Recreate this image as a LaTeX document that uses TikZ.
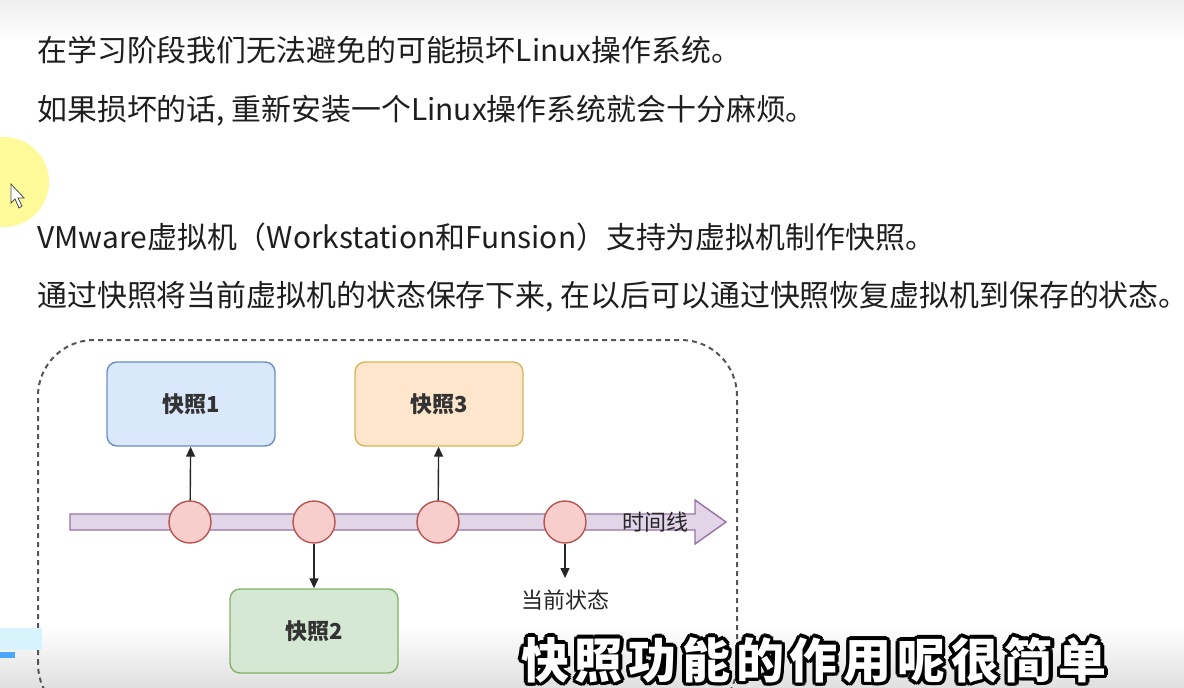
\documentclass[tikz,border=0pt]{standalone}
\usepackage{fontspec}
\setmainfont{Noto Sans CJK SC}
\newfontfamily\subfont[LetterSpace=12]{Noto Sans CJK SC}
\usetikzlibrary{arrows.meta}
\definecolor{txt}{HTML}{1E1E1E}
\definecolor{blueF}{HTML}{DAE8FC}\definecolor{blueD}{HTML}{6C8EBF}
\definecolor{orgF}{HTML}{FFE6CC}\definecolor{orgD}{HTML}{D6B656}
\definecolor{grnF}{HTML}{D5E8D4}\definecolor{grnD}{HTML}{82B366}
\definecolor{redF}{HTML}{F8CECC}\definecolor{redD}{HTML}{B85450}
\definecolor{purF}{HTML}{E1D5E7}\definecolor{purD}{HTML}{9673A6}
\definecolor{frame}{HTML}{555555}
\tikzset{
  line/.style={anchor=west,text=txt,font=\fontsize{14.95}{16}\selectfont,inner sep=0pt},
  snapbox/.style={draw,rounded corners=5pt,line width=0.7pt,minimum width=84pt,minimum height=42pt,
    font=\fontsize{11}{13}\selectfont\bfseries,text=black!80},
  dot/.style={circle,draw=redD,fill=redF,line width=0.7pt,minimum size=21pt,inner sep=0pt},
  small/.style={font=\fontsize{11}{13}\selectfont,text=black!85,inner sep=0pt},
  arr/.style={-{Triangle[length=5pt,width=4.5pt]},line width=0.7pt,black!85},
  subt/.style={font=\subfont\fontsize{24}{26}\selectfont\bfseries,inner sep=0pt}
}
\begin{document}
\begin{tikzpicture}[x=0.5pt,y=-0.5pt]
\useasboundingbox (0,0) rectangle (1184,687);
\clip (0,0) rectangle (1184,687);
% background
\fill[white] (0,0) rectangle (1184,687);
\shade[top color=black!6,bottom color=white] (0,0) rectangle (1184,40);
\shade[top color=white,bottom color=black!12] (0,625) rectangle (1184,687);
% cursor highlight
\fill[yellow!40!white] (4,182) circle (45);
\filldraw[fill=white,draw=black!70,line width=0.4pt] (11,184) -- (11,203) -- (15,199) -- (19,208) -- (22,206) -- (18,198) -- (24,198) -- cycle;
% text lines
\node[line] (t1) at (37,50) {在学习阶段我们无法避免的可能损坏Linux操作系统。};
\node[line] (t2) at (37,111) {如果损坏的话, 重新安装一个Linux操作系统就会十分麻烦。};
\node[line] (t3) at (37,237) {VMware虚拟机（Workstation和Funsion）支持为虚拟机制作快照。};
\node[line] (t4) at (37,297) {通过快照将当前虚拟机的状态保存下来, 在以后可以通过快照恢复虚拟机到保存的状态。};
% frame
\draw[frame,line width=1pt,dash pattern=on 2.5pt off 2pt,rounded corners=28pt] (38,720) rectangle (737,340);
% timeline
\filldraw[fill=purF,draw=purD,line width=0.7pt] (70,514) -- (695,514) -- (695,500) -- (726,522) -- (695,544) -- (695,530) -- (70,530) -- cycle;
\node[small] (tl) at (655,522) {时间线};
% snapshots
\node[snapbox,fill=blueF,draw=blueD] (s1) at (191,404) {快照1};
\node[snapbox,fill=orgF,draw=orgD] (s3) at (439,404) {快照3};
\node[snapbox,fill=grnF,draw=grnD] (s2) at (314,631) {快照2};
\node[dot] (p1) at (190,522) {};
\node[dot] (p2) at (314,522) {};
\node[dot] (p3) at (438,522) {};
\node[dot] (p4) at (565,522) {};
\coordinate (cur) at (565,578);
\node[small] (now) at (565,600) {当前状态};
\draw[arr] (p1) -- (s1);
\draw[arr] (p3) -- (s3);
\draw[arr] (p2) -- (s2);
\draw[arr] (p4) -- (cur);
% video bits
\fill[cyan!15] (0,628) rectangle (42,650);
\fill[blue!50!cyan!70] (0,652) rectangle (15,658);
% subtitle
\foreach \a in {0,30,...,330}
  \node[subt,text=black] (o\a) at ([shift={(\a:3.5)}]814,660) {快照功能的作用呢很简单};
\node[subt,text=white] (sub) at (814,660) {快照功能的作用呢很简单};
\end{tikzpicture}
\end{document}
